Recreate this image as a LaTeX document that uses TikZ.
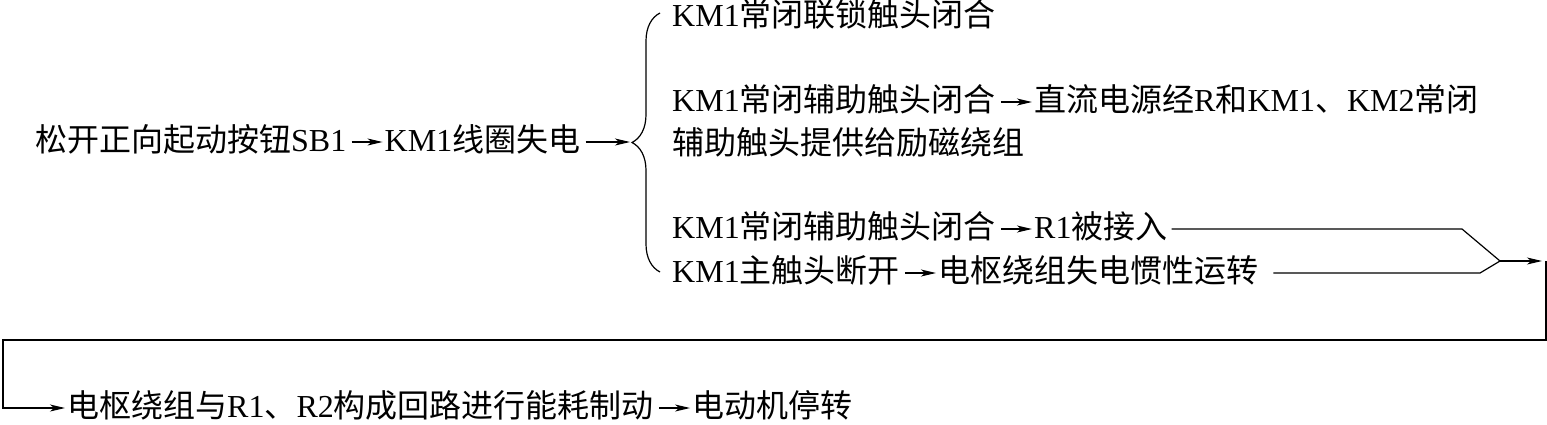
\documentclass[tikz,border=0pt]{standalone}
\usepackage{fontspec}
\setmainfont{Liberation Serif}
\newfontfamily\cjk{Noto Sans CJK SC}
\usetikzlibrary{arrows.meta, positioning, calc, decorations.pathreplacing}
\newcommand{\zh}[1]{{\cjk #1}}
\tikzset{
    txt/.style = {anchor=west, inner sep=0pt, text height=24pt, text depth=6pt, font=\fontsize{32}{38}\selectfont},
    arrow/.style = {line width=1.2pt, -{Stealth[length=15pt, width=7pt, inset=4pt]}, shorten <=5pt, shorten >=2pt},
    line/.style = {line width=1.2pt, -}
}

\begin{document}
\begin{tikzpicture}[x=1pt, y=-1pt, node distance=38pt]
\useasboundingbox (0,0) rectangle (1547,424);
% Nodes
\node[txt] (release) at (35,142) {\zh{松开正向起动按钮}SB1};
\node[txt, right=of release] (coil) {KM1\zh{线圈失电}};
\coordinate (fork) at (632,142);

\node[txt] (interlock) at (672,17) {KM1\zh{常闭联锁触头闭合}};
\node[txt] (auxA) at (672,102) {KM1\zh{常闭辅助触头闭合}};
\node[txt, right=of auxA] (supply) {\zh{直流电源经}R\zh{和}KM1\zh{、}KM2\zh{常闭}};
\node[txt] (supply2) at (672,145) {\zh{辅助触头提供给励磁绕组}};
\node[txt] (auxB) at (672,229) {KM1\zh{常闭辅助触头闭合}};
\node[txt, right=of auxB] (inserted) {R1\zh{被接入}};
\node[txt] (mainc) at (672,273) {KM1\zh{主触头断开}};
\node[txt, right=of mainc] (coasting) {\zh{电枢绕组失电惯性运转}};

\node[txt] (brake) at (67,408) {\zh{电枢绕组与}R1\zh{、}R2\zh{构成回路进行能耗制动}};
\node[txt, right=of brake] (stop) {\zh{电动机停转}};

\coordinate (kinkA) at (1462,0);
\coordinate (kinkB) at (1480,0);
\coordinate (join) at (1500,261);
\coordinate (turn) at (1546,261);
\coordinate (loopL) at (3,340);

% Brace
\draw[line, decorate, decoration={brace, amplitude=28pt}] (660,272) -- (660,13);

% Arrows
\draw[arrow] (release) -- (coil);
\draw[arrow] (coil) -- (fork);
\draw[arrow] (auxA) -- (supply);
\draw[arrow] (auxB) -- (inserted);
\draw[arrow] (mainc) -- (coasting);
\draw[line] ([xshift=4pt]inserted.east) -- (inserted.east -| kinkA) -- (join);
\draw[line] ([xshift=15pt]coasting.east) -- (coasting.east -| kinkB) -- (join);
\draw[arrow, shorten <=0pt, shorten >=4pt] (join) -- (turn);
\draw[arrow, shorten <=0pt] (turn) |- (loopL) |- (brake.west);
\draw[arrow] (brake) -- (stop);

\end{tikzpicture}
\end{document}
